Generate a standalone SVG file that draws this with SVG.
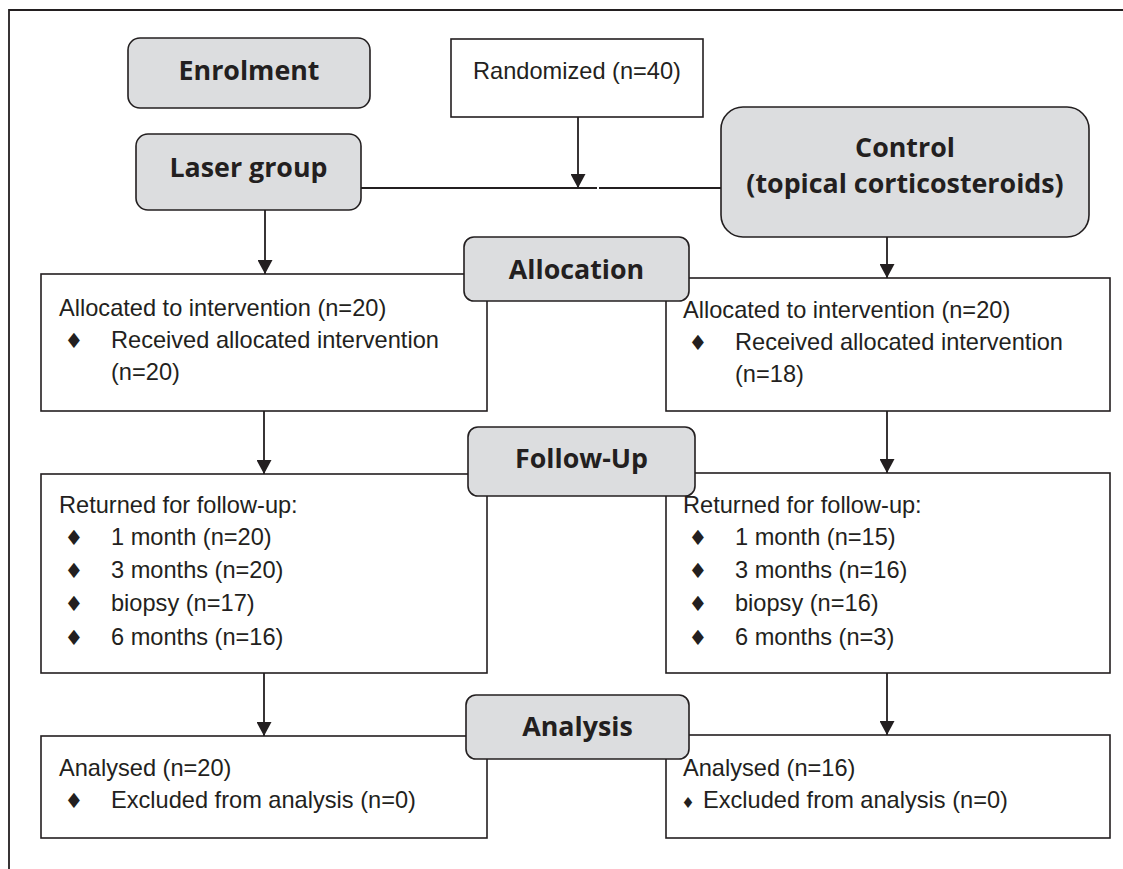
<svg xmlns="http://www.w3.org/2000/svg" width="1123" height="869" viewBox="0 0 1123 869">
<style>
.box{fill:#ffffff;stroke:#231f20;stroke-width:1.6}
.lab{fill:#dcdddf;stroke:#231f20;stroke-width:1.6}
.ln{stroke:#231f20;stroke-width:1.8;fill:none}
.hd{font-family:"Open Sans","Liberation Sans",sans-serif;font-weight:bold;font-size:26.8px;fill:#231f20;text-anchor:middle}
.tx{font-family:"Liberation Sans",Arial,sans-serif;font-size:23.6px;fill:#231f20}
.bu{font-family:"DejaVu Sans",sans-serif;font-size:21px;fill:#231f20;text-anchor:middle}
.bs{font-family:"DejaVu Sans",sans-serif;font-size:15px;fill:#231f20;text-anchor:middle}
</style>
<defs>
<marker id="ah" viewBox="0 0 14 15" refX="14" refY="7.5" markerWidth="14" markerHeight="15" markerUnits="userSpaceOnUse" orient="auto">
<path d="M0,0 L14,7.5 L0,15 Z" fill="#231f20"/>
</marker>
</defs>
<rect width="1123" height="869" fill="#ffffff"/>
<g id="frame">
<path class="ln" d="M9,869 V10 H1123"/>
</g>
<g id="connectors">
<path class="ln" d="M361,188 H597 M599,188 H721"/>
<path class="ln" d="M578,117 V188" marker-end="url(#ah)"/>
<path class="ln" d="M265,210 V274" marker-end="url(#ah)"/>
<path class="ln" d="M887,237 V278" marker-end="url(#ah)"/>
<path class="ln" d="M264,411 V474" marker-end="url(#ah)"/>
<path class="ln" d="M887,411 V473" marker-end="url(#ah)"/>
<path class="ln" d="M264,673 V736" marker-end="url(#ah)"/>
<path class="ln" d="M887,670 V735" marker-end="url(#ah)"/>
</g>
<g id="enrolment">
<rect class="lab" x="128" y="38" width="242" height="70" rx="12"/>
<text class="hd" x="249" y="80">Enrolment</text>
</g>
<g id="randomized">
<rect class="box" x="451" y="39" width="252" height="78"/>
<text class="tx" x="577" y="79" text-anchor="middle">Randomized (n=40)</text>
</g>
<g id="laser">
<rect class="lab" x="136" y="134" width="225" height="76" rx="12"/>
<text class="hd" x="248.5" y="177">Laser group</text>
</g>
<g id="control">
<rect class="lab" x="721" y="107" width="368" height="130" rx="22"/>
<text class="hd" x="905" y="157">Control</text>
<text class="hd" x="905" y="193">(topical corticosteroids)</text>
</g>
<g id="alloc-left">
<rect class="box" x="41" y="274" width="446" height="137"/>
<text class="tx" x="59" y="316">Allocated to intervention (n=20)</text>
<text class="bu" x="74" y="348">♦</text>
<text class="tx" x="111" y="348">Received allocated intervention</text>
<text class="tx" x="111" y="380">(n=20)</text>
</g>
<g id="alloc-right">
<rect class="box" x="666" y="278" width="444" height="133"/>
<text class="tx" x="683" y="318">Allocated to intervention (n=20)</text>
<text class="bu" x="698" y="350">♦</text>
<text class="tx" x="735" y="350">Received allocated intervention</text>
<text class="tx" x="735" y="382">(n=18)</text>
</g>
<g id="allocation">
<rect class="lab" x="464" y="237" width="225" height="64" rx="10"/>
<text class="hd" x="576.5" y="279">Allocation</text>
</g>
<g id="follow-left">
<rect class="box" x="41" y="474" width="446" height="199"/>
<text class="tx" x="59" y="513">Returned for follow-up:</text>
<text class="bu" x="74" y="545">♦</text>
<text class="tx" x="111" y="545">1 month (n=20)</text>
<text class="bu" x="74" y="578">♦</text>
<text class="tx" x="111" y="578">3 months (n=20)</text>
<text class="bu" x="74" y="611">♦</text>
<text class="tx" x="111" y="611">biopsy (n=17)</text>
<text class="bu" x="74" y="645">♦</text>
<text class="tx" x="111" y="645">6 months (n=16)</text>
</g>
<g id="follow-right">
<rect class="box" x="666" y="473" width="444" height="200"/>
<text class="tx" x="683" y="513">Returned for follow-up:</text>
<text class="bu" x="698" y="545">♦</text>
<text class="tx" x="735" y="545">1 month (n=15)</text>
<text class="bu" x="698" y="578">♦</text>
<text class="tx" x="735" y="578">3 months (n=16)</text>
<text class="bu" x="698" y="611">♦</text>
<text class="tx" x="735" y="611">biopsy (n=16)</text>
<text class="bu" x="698" y="645">♦</text>
<text class="tx" x="735" y="645">6 months (n=3)</text>
</g>
<g id="followup">
<rect class="lab" x="468" y="427" width="227" height="69" rx="10"/>
<text class="hd" x="581.5" y="468">Follow-Up</text>
</g>
<g id="analysis-left">
<rect class="box" x="41" y="736" width="446" height="102"/>
<text class="tx" x="59" y="776">Analysed (n=20)</text>
<text class="bu" x="74" y="808">♦</text>
<text class="tx" x="111" y="808">Excluded from analysis (n=0)</text>
</g>
<g id="analysis-right">
<rect class="box" x="666" y="735" width="444" height="103"/>
<text class="tx" x="683" y="776">Analysed (n=16)</text>
<text class="bs" x="688" y="808">♦</text>
<text class="tx" x="703" y="808">Excluded from analysis (n=0)</text>
</g>
<g id="analysis">
<rect class="lab" x="466" y="695" width="223" height="64" rx="10"/>
<text class="hd" x="577.5" y="736">Analysis</text>
</g>
</svg>
